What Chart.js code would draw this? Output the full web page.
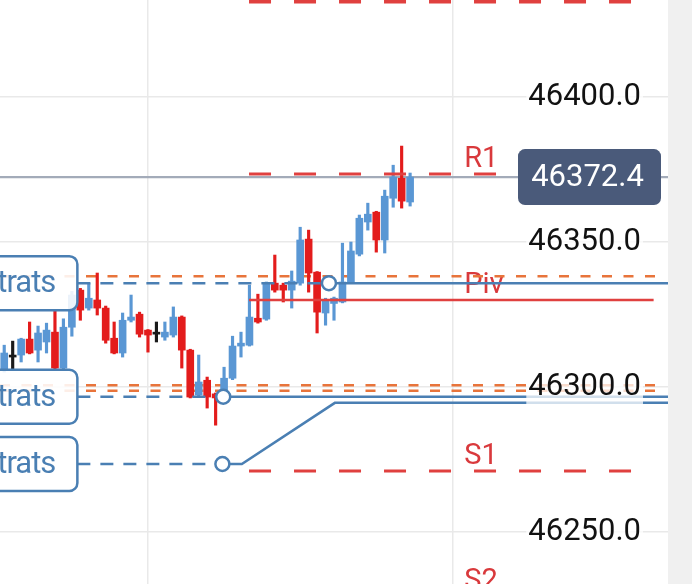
<!DOCTYPE html>
<html>
<head>
<meta charset="utf-8">
<script src="https://cdn.jsdelivr.net/npm/chart.js@4.4.0/dist/chart.umd.min.js"></script>
<style>
  html, body { margin: 0; padding: 0; background: #f0f0f0; }
  #wrap { position: relative; width: 668px; height: 584px; background: #fff; }
</style>
</head>
<body>
<div id="wrap"><canvas id="chart"></canvas></div>
<script>
// candles, oldest first
const opens  = [46305.8, 46310.3, 46311.0, 46316.5, 46312.7, 46315.5, 46318.9, 46306.5, 46320.6, 46333.4,
                46327.2, 46330.0, 46327.2, 46316.8, 46311.7, 46323.0, 46325.1, 46319.6, 46318.2, 46317.2,
                46317.9, 46324.1, 46312.7, 46297.2, 46302.3, 46297.6, 46297.9, 46303.0, 46314.1, 46314.4,
                46323.7, 46323.4, 46335.8, 46335.1, 46333.4, 46335.8, 46351.0, 46339.6, 46325.5, 46328.8,
                46329.3, 46336.2, 46345.8, 46356.9, 46360.3, 46350.7, 46365.1, 46372.0, 46363.8];
const highs  = [46314.4, 46315.8, 46316.8, 46322.4, 46321.0, 46322.0, 46326.5, 46323.5, 46333.0, 46334.0,
                46335.8, 46339.3, 46327.9, 46322.4, 46325.5, 46331.7, 46325.8, 46319.8, 46322.4, 46322.4,
                46327.6, 46324.5, 46313.0, 46311.0, 46303.4, 46297.9, 46306.8, 46317.5, 46318.9, 46335.1,
                46332.0, 46336.2, 46345.5, 46335.8, 46340.0, 46355.1, 46354.1, 46339.8, 46330.6, 46331.0,
                46349.6, 46350.0, 46359.3, 46363.4, 46360.6, 46367.9, 46376.5, 46383.1, 46373.8];
const lows   = [46305.1, 46306.1, 46308.6, 46311.4, 46308.6, 46311.7, 46306.1, 46306.0, 46317.5, 46323.0,
                46326.5, 46324.8, 46315.1, 46311.4, 46310.3, 46322.4, 46317.2, 46312.0, 46315.5, 46316.1,
                46317.2, 46306.5, 46296.2, 46296.5, 46292.7, 46286.8, 46297.0, 46302.5, 46310.3, 46314.1,
                46322.0, 46323.0, 46332.7, 46329.3, 46327.2, 46335.1, 46332.7, 46318.6, 46321.3, 46323.0,
                46329.0, 46335.8, 46345.2, 46354.1, 46346.5, 46346.2, 46362.0, 46361.7, 46362.4];
const closes = [46311.7, 46310.3, 46316.5, 46311.7, 46318.6, 46319.6, 46306.5, 46320.6, 46331.7, 46326.5,
                46330.6, 46327.2, 46316.1, 46311.7, 46323.0, 46324.1, 46318.2, 46317.9, 46318.2, 46318.9,
                46324.1, 46312.7, 46296.5, 46301.7, 46296.5, 46296.2, 46303.0, 46314.1, 46315.1, 46324.1,
                46322.4, 46335.8, 46333.4, 46333.4, 46336.5, 46350.7, 46339.3, 46325.8, 46330.0, 46330.6,
                46336.2, 46346.9, 46358.2, 46359.6, 46350.7, 46365.8, 46372.4, 46364.1, 46372.4];

const yTicks = [46250, 46300, 46350, 46400];
const timeGrid = [17, 53];

// pivot points
const pivotNames  = ['R2', 'R1', 'Piv', 'S1', 'S2'];
const pivotLevels = [46433.0, 46373.5, 46330.0, 46271.0, 46228.0];
const pivotFrom = 28.95, pivotTo = 76.8;

const orangeLevels = [46338.2, 46300.6, 46298.7];

// stops: dashed until hit, then solid
const stopNames  = ['Strats', 'Strats', 'Strats'];
const stopLevels = [46335.8, 46296.6, 46273.4];
const stopHitAt  = [38.4, 25.9, 25.8];
const trailX = [25.8, 28.1, 39.1, 78.5];
const trailY = [46273.4, 46273.4, 46294.5, 46294.5];

const BLUE = '#5a97d4', RED = '#e31c1c', DOJI = '#1a1a1a';
const STOP = '#4a7fb3', PIV = '#e0403f', ORANGE = '#e8743b';
const X_MIN = -0.5, X_MAX = 78.5, BOX_EDGE = 8.65;

const candleColors = opens.map((o, i) => closes[i] > o ? BLUE : (closes[i] < o ? RED : DOJI));
const last = closes[closes.length - 1];

function seg(x0, x1, y) {
  return [{ x: x0, y }, { x: x1, y }];
}
function line(data, color, width, dash, order) {
  return {
    type: 'line', data, borderColor: color, borderWidth: width, borderDash: dash || [],
    pointRadius: 0, fill: false, tension: 0, order
  };
}

const datasets = [];

// candles
datasets.push({
  type: 'bar', order: 5, grouped: false, barThickness: 2.5,
  data: highs.map((h, i) => ({ x: i, y: [lows[i], h] })),
  backgroundColor: candleColors
});
datasets.push({
  type: 'bar', order: 4, grouped: false, barThickness: 7, minBarLength: 2,
  data: opens.map((o, i) => ({ x: i, y: [o, closes[i]] })),
  backgroundColor: candleColors
});

// last price
datasets.push(line(seg(X_MIN, X_MAX, last), '#a3abb9', 2.2, null, 6));

orangeLevels.forEach(v => datasets.push(line(seg(X_MIN, 77.8, v), ORANGE, 2.5, [10, 11.5], 8)));

pivotNames.forEach((n, i) => {
  const solid = n === 'Piv';
  datasets.push(line(seg(pivotFrom, pivotTo, pivotLevels[i]), PIV,
    n === 'R2' ? 4 : (solid ? 2.5 : 3), solid ? null : [22, 23], 2));
});

stopLevels.forEach((v, i) => {
  datasets.push(line(seg(BOX_EDGE, stopHitAt[i], v), STOP, 2.5, [13, 10], 2));
  if (i < 2) datasets.push(line(seg(stopHitAt[i], X_MAX, v), STOP, 2.5, null, 2));
});
datasets.push(line(trailX.map((x, i) => ({ x, y: trailY[i] })), STOP, 2.5, null, 2));

datasets.push({
  type: 'line', showLine: false, order: 1,
  data: stopHitAt.map((x, i) => ({ x, y: stopLevels[i] })),
  pointRadius: 7, pointBorderWidth: 2.5, pointBackgroundColor: '#fff', pointBorderColor: STOP
});

const overlays = {
  id: 'overlays',
  beforeDatasetsDraw(chart) {
    const { ctx, scales: { x, y } } = chart;
    ctx.save();
    ctx.fillStyle = '#d9393c';
    ctx.font = '29px Roboto';
    ctx.textAlign = 'left';
    ctx.textBaseline = 'alphabetic';
    pivotNames.forEach((n, i) => {
      ctx.fillText(n, x.getPixelForValue(54.4), y.getPixelForValue(pivotLevels[i]) - 7);
    });
    ctx.restore();
  },
  afterDatasetsDraw(chart) {
    const { ctx, scales: { x, y } } = chart;
    const right = x.getPixelForValue(BOX_EDGE);
    ctx.save();
    stopLevels.forEach((v, i) => {
      const cy = y.getPixelForValue(v);
      ctx.beginPath();
      ctx.roundRect(-12, cy - 27, right + 12, 54, 8);
      ctx.fillStyle = 'rgba(255,255,255,0.88)';
      ctx.fill();
      ctx.lineWidth = 2.5;
      ctx.strokeStyle = STOP;
      ctx.stroke();
      ctx.fillStyle = STOP;
      ctx.font = '31px Roboto';
      ctx.letterSpacing = '-1px';
      ctx.textAlign = 'right';
      ctx.textBaseline = 'middle';
      ctx.fillText(stopNames[i], right - 22, cy + 1);
    });
    ctx.restore();
  },
  afterDraw(chart) {
    const { ctx, chartArea, scales: { y } } = chart;
    const cy = y.getPixelForValue(last);
    const x1 = chartArea.right - 7, x0 = x1 - 143;
    ctx.save();
    ctx.beginPath();
    ctx.roundRect(x0, cy - 28, x1 - x0, 56, 7);
    ctx.fillStyle = '#4a5a7a';
    ctx.fill();
    ctx.fillStyle = '#fff';
    ctx.font = '31px Roboto';
    ctx.textAlign = 'center';
    ctx.textBaseline = 'middle';
    ctx.fillText(last.toFixed(1), (x0 + x1) / 2 - 2, cy + 1);
    ctx.restore();
  }
};

new Chart(document.getElementById('chart'), {
  type: 'bar',
  data: { datasets },
  plugins: [overlays],
  options: {
    responsive: true,
    maintainAspectRatio: false,
    animation: false,
    layout: { padding: 0, autoPadding: false },
    plugins: { legend: { display: false }, tooltip: { enabled: false } },
    scales: {
      x: {
        type: 'linear', min: X_MIN, max: X_MAX, offset: false,
        afterBuildTicks: s => { s.ticks = timeGrid.map(v => ({ value: v })); },
        afterFit: s => { s.height = 0; },
        grid: { color: '#e9e9e9', lineWidth: 1.5, drawTicks: false, offset: false },
        border: { display: false },
        ticks: { display: false }
      },
      y: {
        position: 'right', min: 46232, max: 46433.5,
        afterBuildTicks: s => { s.ticks = yTicks.map(v => ({ value: v })); },
        afterFit: s => { s.width = 0; s.paddingTop = 0; s.paddingBottom = 0; },
        grid: { color: '#e9e9e9', lineWidth: 1.5, drawTicks: false },
        border: { display: false },
        ticks: {
          mirror: true, padding: -27, z: 1,
          color: '#111', font: { family: 'Roboto', size: 31 },
          showLabelBackdrop: true, backdropColor: 'rgba(255,255,255,0.75)', backdropPadding: 2,
          callback: v => v.toFixed(1)
        }
      }
    }
  }
});
</script>
</body>
</html>
